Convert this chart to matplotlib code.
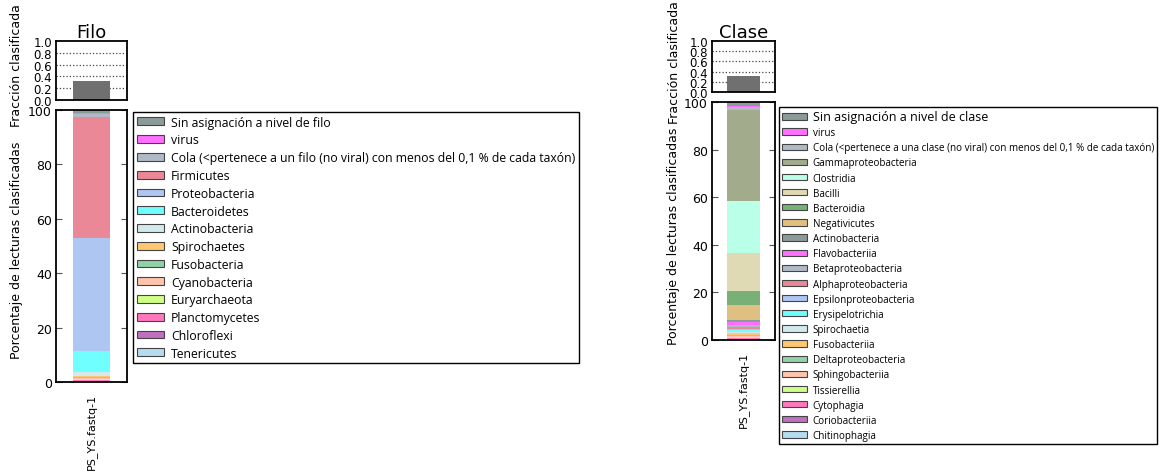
import numpy as np
import matplotlib
matplotlib.use("Agg")
import matplotlib.pyplot as plt
from matplotlib.patches import Patch

muestra = "PS_YS.fastq-1"

# --- Filo ---
filo_nombres = ["Sin asignación a nivel de filo", "virus",
                "Cola (<pertenece a un filo (no viral) con menos del 0,1 % de cada taxón)",
                "Firmicutes", "Proteobacteria", "Bacteroidetes", "Actinobacteria",
                "Spirochaetes", "Fusobacteria", "Cyanobacteria", "Euryarchaeota",
                "Planctomycetes", "Chloroflexi", "Tenericutes"]
filo_valores = [1.2, 0.3, 1.0, 44.5, 41.5, 7.7, 1.6, 0.4, 0.3, 0.3, 0.4, 0.3, 0.3, 0.2]
filo_colores = ["#8c9a9a", "#ff70ff", "#b0bac6", "#ea8898", "#aec6f2", "#70ffff",
                "#d2eaee", "#ffc870", "#92d2a8", "#ffc4ac", "#d0ff88", "#ff78bc",
                "#c070c0", "#b4dcee"]
filo_fraccion = 0.32

# --- Clase ---
clase_nombres = ["Sin asignación a nivel de clase", "virus",
                 "Cola (<pertenece a una clase (no viral) con menos del 0,1 % de cada taxón)",
                 "Gammaproteobacteria", "Clostridia", "Bacilli", "Bacteroidia",
                 "Negativicutes", "Actinobacteria", "Flavobacteriia", "Betaproteobacteria",
                 "Alphaproteobacteria", "Epsilonproteobacteria", "Erysipelotrichia",
                 "Spirochaetia", "Fusobacteriia", "Deltaproteobacteria", "Sphingobacteriia",
                 "Tissierellia", "Cytophagia", "Coriobacteriia", "Chitinophagia"]
clase_valores = [1.5, 0.5, 1.5, 38.0, 22.0, 16.0, 6.0, 6.0, 1.0, 1.2, 0.8, 0.7, 0.6,
                 0.8, 0.6, 0.5, 0.5, 0.4, 0.4, 0.4, 0.3, 0.3]
clase_colores = ["#8c9a9a", "#ff70ff", "#b0bac6", "#a2ac8c", "#baffe8", "#dfdab4",
                 "#78b078", "#e0c080", "#8c9a9a", "#ff70ff", "#b0bac6", "#ea8898",
                 "#aec6f2", "#70ffff", "#d2eaee", "#ffc870", "#92d2a8", "#ffc4ac",
                 "#d0ff88", "#ff78bc", "#c070c0", "#b4dcee"]
clase_fraccion = 0.31

W, H = 1166, 477
fig = plt.figure(figsize=(W / 100, H / 100), dpi=100)


def box(x0, y0, x1, y1):
    return [x0 / W, 1 - y1 / H, (x1 - x0) / W, (y1 - y0) / H]


def estilo(ax):
    for s in ax.spines.values():
        s.set_linewidth(1.3)
        s.set_color("black")
    ax.tick_params(axis="y", direction="in", right=True, length=4, labelsize=9,
                   pad=3, color="#555555")
    ax.set_xlim(-0.5, 0.5)


def panel(titulo, nombres, valores, colores, fraccion, top_box, bot_box,
          leg_pos, xlab, ylab_c, leg_fs, first_fs, lsp, hlen):
    ax1 = fig.add_axes(box(*top_box))
    ax1.bar([0], [fraccion], width=0.52, color="#707070")
    ax1.set_ylim(0, 1)
    ax1.set_yticks([0, 0.2, 0.4, 0.6, 0.8, 1.0])
    ax1.set_yticklabels(["0.0", "0.2", "0.4", "0.6", "0.8", "1.0"])
    ax1.set_xticks([])
    for g in [0.2, 0.4, 0.6, 0.8]:
        ax1.axhline(g, color="#444444", ls=":", lw=0.9, zorder=0)
    estilo(ax1)
    ax1.tick_params(axis="y", length=0, labelsize=8.5)
    ax1.set_title(titulo, fontsize=13, pad=3)

    ax2 = fig.add_axes(box(*bot_box))
    abajo = 100 - np.cumsum(valores)
    for nom, v, c, b in zip(nombres, valores, colores, abajo):
        ax2.bar([0], [v], bottom=b, width=0.52, color=c, linewidth=0)
    ax2.set_ylim(0, 100)
    ax2.set_yticks([0, 20, 40, 60, 80, 100])
    ax2.set_xticks([0])
    ax2.set_xticklabels([muestra], rotation=90, fontsize=8)
    ax2.tick_params(axis="x", length=0, pad=8)
    estilo(ax2)

    fig.text(xlab / W, 1 - ylab_c[0] / H, "Fracción clasificada",
             rotation=90, ha="center", va="center", fontsize=9)
    fig.text(xlab / W, 1 - ylab_c[1] / H,
             "Porcentaje de lecturas clasificadas",
             rotation=90, ha="center", va="center", fontsize=9)

    handles = [Patch(facecolor=c, edgecolor="#444444", linewidth=0.8) for c in colores]
    leg = fig.legend(handles, nombres, loc="upper left",
                     bbox_to_anchor=(leg_pos[0] / W, 1 - leg_pos[1] / H),
                     prop={"family": "Open Sans", "size": leg_fs},
                     fancybox=False, edgecolor="black", framealpha=1,
                     handlelength=hlen, handleheight=0.6, handletextpad=0.6,
                     labelspacing=lsp, borderpad=0.3, borderaxespad=0)
    leg.get_frame().set_linewidth(1.0)
    leg.get_texts()[0].set_fontsize(first_fs)
    return leg


panel("Filo", filo_nombres, filo_valores, filo_colores, filo_fraccion,
      (56, 42, 127, 101), (56, 111, 127, 383), (133, 113), 17, (66, 250),
      8.8, 8.8, 0.39, 2.2)
panel("Clase", clase_nombres, clase_valores, clase_colores, clase_fraccion,
      (712, 42, 775, 93), (712, 103, 775, 341), (779, 108), 674, (63, 236),
      7.1, 9, 0.42, 2.5)

fig.savefig("out.png", dpi=100)
